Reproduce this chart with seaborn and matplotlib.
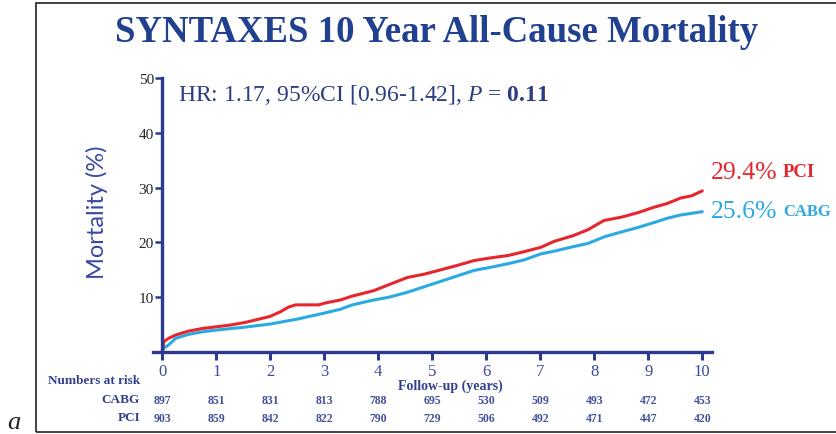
import numpy as np
import pandas as pd
import matplotlib
matplotlib.use("Agg")
import matplotlib.pyplot as plt
import matplotlib.transforms as mtransforms
from matplotlib.patches import Rectangle
import seaborn as sns

# Kaplan-Meier style cumulative mortality (%), SYNTAXES trial
pci_years = [0, 0.03, 0.12, 0.25, 0.48, 0.75, 1.0, 1.25, 1.54, 1.75, 2.0, 2.2, 2.34,
             2.47, 2.7, 2.9, 3.0, 3.3, 3.52, 3.92, 4.2, 4.54, 4.85, 5.16, 5.5, 5.78,
             6.1, 6.4, 6.7, 7.01, 7.26, 7.6, 7.88, 8.18, 8.5, 8.8, 9.1, 9.35, 9.6,
             9.8, 10.0]
pci_mortality = [0, 1.9, 2.5, 3.1, 3.8, 4.3, 4.6, 4.9, 5.4, 5.9, 6.5, 7.4, 8.2,
                 8.6, 8.6, 8.6, 8.9, 9.5, 10.2, 11.2, 12.3, 13.6, 14.2, 15.0, 15.9, 16.7,
                 17.2, 17.6, 18.3, 19.1, 20.2, 21.2, 22.3, 24.0, 24.6, 25.4, 26.4, 27.1, 28.1,
                 28.5, 29.4]

cabg_years = [0, 0.03, 0.12, 0.25, 0.48, 0.75, 1.0, 1.5, 2.0, 2.5, 3.0, 3.3, 3.52,
              3.92, 4.2, 4.54, 4.85, 5.16, 5.5, 5.78, 6.1, 6.4, 6.7, 7.01, 7.26, 7.6,
              7.88, 8.18, 8.5, 8.8, 9.1, 9.35, 9.6, 9.8, 10.0]
cabg_mortality = [0, 0.7, 1.3, 2.5, 3.2, 3.7, 4.0, 4.5, 5.1, 6.0, 7.1, 7.8, 8.6,
                  9.5, 10.0, 10.9, 11.9, 12.9, 14.0, 14.9, 15.5, 16.1, 16.8, 17.9, 18.4, 19.2,
                  19.8, 21.0, 21.9, 22.7, 23.6, 24.4, 25.0, 25.3, 25.6]

risk_years = list(range(11))
cabg_at_risk = [897, 851, 831, 813, 788, 695, 530, 509, 493, 472, 453]
pci_at_risk = [903, 859, 842, 822, 790, 729, 506, 492, 471, 447, 420]

pci_end = 29.4
cabg_end = 25.6

x_ticks = list(range(11))
y_ticks = [10, 20, 30, 40, 50]

title = "SYNTAXES 10 Year All-Cause Mortality"
hr_text = r"HR: 1.17, 95%CI [0.96-1.42], $\mathit{P}$ = $\mathbf{0.11}$"

NAVY = "#2b3990"
TICK_NAVY = "#3d479c"
TITLE_BLUE = "#21408f"
RED = "#e5272d"
BLUE = "#29abe2"

sns.set_theme(style="white")
plt.rcParams["font.family"] = ["Liberation Serif", "DejaVu Serif"]
plt.rcParams["mathtext.fontset"] = "custom"
plt.rcParams["mathtext.rm"] = "Liberation Serif"
plt.rcParams["mathtext.it"] = "Liberation Serif:italic"
plt.rcParams["mathtext.bf"] = "Liberation Serif:bold"

W, H = 837, 435
fig = plt.figure(figsize=(W / 100, H / 100), dpi=100)


def fx(px):
    return px / W


def fy(py):
    return 1 - py / H


# outer frame
fig.patches.append(Rectangle((fx(36), fy(433)), fx(840) - fx(36), fy(4) - fy(433),
                             transform=fig.transFigure, fill=False,
                             edgecolor="#333333", linewidth=1.3))

ax = fig.add_axes([fx(153), fy(353), fx(712) - fx(153), fy(79) - fy(353)])

df = pd.concat([
    pd.DataFrame({"Follow-up (years)": pci_years, "Mortality (%)": pci_mortality, "Arm": "PCI"}),
    pd.DataFrame({"Follow-up (years)": cabg_years, "Mortality (%)": cabg_mortality, "Arm": "CABG"}),
])
sns.lineplot(data=df, x="Follow-up (years)", y="Mortality (%)", hue="Arm",
             hue_order=["CABG", "PCI"], palette={"PCI": RED, "CABG": BLUE},
             linewidth=2.2, legend=False, ax=ax, sort=False, estimator=None)

ax.set_xlim(-0.17, 10.18)
ax.set_ylim(0, 50)
ax.set_xticks(x_ticks)
ax.set_yticks(y_ticks)
ax.set_xticklabels([str(t) for t in x_ticks], fontsize=12, color=TICK_NAVY)
ax.set_yticklabels([str(t) for t in y_ticks], fontsize=8.5, color="#545c9e")
ax.set_xlabel("")
ax.set_ylabel("")
ax.spines["left"].set_position(("data", 0))
ax.spines["top"].set_visible(False)
ax.spines["right"].set_visible(False)
for s in ("left", "bottom"):
    ax.spines[s].set_color(NAVY)
    ax.spines[s].set_linewidth(2.4)
ax.tick_params(axis="x", direction="out", length=6, width=2.2, color=NAVY, pad=2, bottom=True)
ax.tick_params(axis="y", direction="out", length=5, width=1.8, color=NAVY, pad=1, left=True)
ax.set_facecolor("none")

# y-axis title
fig.text(fx(97), fy(212), "Mortality (%)", rotation=90, ha="center", va="center",
         fontsize=17, color="#3a48a0", family=["Lato", "DejaVu Sans"])

# chart title
fig.text(fx(437), fy(32), title, ha="center", va="center", fontsize=26.5,
         fontweight="bold", color=TITLE_BLUE)

# hazard ratio annotation
fig.text(fx(178), fy(95), hr_text, ha="left", va="center", fontsize=17, color="#2d3d80")

# end-of-curve labels
for val, rise, arm, col, size in [(pci_end, 19, "PCI", RED, 13.5), (cabg_end, 1, "CABG", BLUE, 12)]:
    ann = ax.annotate(f"{val}%", xy=(10, val), xytext=(9, rise), textcoords="offset pixels",
                      ha="left", va="center", fontsize=18.5, color=col, annotation_clip=False)
    fig.canvas.draw()
    bb = ann.get_window_extent()
    fig.text(bb.x1 / W + fx(5), (bb.y0 + bb.y1) / 2 / H, arm, ha="left", va="center",
             fontsize=size, fontweight="bold", color=col)

# numbers at risk table
trans = mtransforms.blended_transform_factory(ax.transData, fig.transFigure)
fig.text(fx(140), fy(381), "Numbers at risk", ha="right", va="center", fontsize=9.5,
         fontweight="bold", color="#333f8f")
fig.text(fx(140), fy(400), "CABG", ha="right", va="center", fontsize=9.5,
         fontweight="bold", color="#333f8f")
fig.text(fx(140), fy(418), "PCI", ha="right", va="center", fontsize=9.5,
         fontweight="bold", color="#333f8f")
for t, c, p in zip(risk_years, cabg_at_risk, pci_at_risk):
    ax.text(t, fy(401), str(c), transform=trans, ha="center", va="center",
            fontsize=8.5, fontweight="bold", color="#45509a")
    ax.text(t, fy(419), str(p), transform=trans, ha="center", va="center",
            fontsize=8.5, fontweight="bold", color="#45509a")

fig.text(fx(450), fy(386), "Follow-up (years)", ha="center", va="center", fontsize=10,
         fontweight="bold", color="#333f8f")

# panel letter
fig.text(fx(14), fy(429), "a", ha="center", va="baseline", fontsize=19, style="italic",
         color="#222222")

fig.savefig("out.png", dpi=100)
